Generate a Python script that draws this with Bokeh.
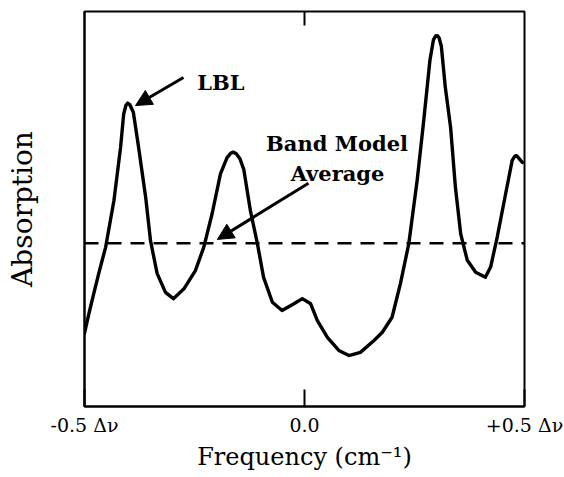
from bokeh.plotting import figure
from bokeh.models import (Range1d, FixedTicker, Span, Arrow,
                          NormalHead, Label, ColumnDataSource)
from bokeh.embed import file_html
from bokeh.resources import INLINE

# ---- data ----
freq = [-0.500, -0.490, -0.479, -0.466, -0.452, -0.433, -0.418, -0.411, -0.406,
        -0.402, -0.397, -0.389, -0.377, -0.361, -0.350, -0.335, -0.316, -0.298,
        -0.274, -0.248, -0.229, -0.210, -0.191, -0.176, -0.168, -0.162, -0.155,
        -0.147, -0.138, -0.123, -0.107, -0.093, -0.073, -0.051, -0.024, -0.005,
        0.014, 0.029, 0.052, 0.078, 0.101, 0.127, 0.158, 0.177, 0.199, 0.218,
        0.237, 0.256, 0.271, 0.285, 0.293, 0.298, 0.302, 0.306, 0.311, 0.320,
        0.332, 0.343, 0.355, 0.370, 0.389, 0.411, 0.423, 0.438, 0.457, 0.472,
        0.478, 0.482, 0.495]
lbl_absorption = [0.185, 0.235, 0.286, 0.344, 0.403, 0.522, 0.656, 0.740, 0.762,
                  0.768, 0.764, 0.745, 0.656, 0.530, 0.420, 0.337, 0.289, 0.273,
                  0.298, 0.344, 0.403, 0.488, 0.589, 0.630, 0.641, 0.644, 0.640,
                  0.628, 0.600, 0.496, 0.412, 0.327, 0.264, 0.243, 0.260, 0.273,
                  0.260, 0.218, 0.175, 0.142, 0.129, 0.137, 0.167, 0.188, 0.226,
                  0.311, 0.412, 0.572, 0.724, 0.876, 0.928, 0.938, 0.939, 0.933,
                  0.912, 0.808, 0.707, 0.555, 0.437, 0.370, 0.340, 0.327, 0.353,
                  0.429, 0.538, 0.623, 0.634, 0.635, 0.618]
band_model_average = 0.413

tick_values = [-0.5, 0.0, 0.5]
tick_labels = ["-0.5 \u0394\u03bd", "0.0", "+0.5 \u0394\u03bd"]

FONT = "DejaVu Serif"
FRAME_H = 395
Y0, Y1 = 0.0, 1.0

p = figure(width=564, height=477, output_backend="svg", toolbar_location=None,
           x_range=Range1d(-0.5, 0.5), y_range=Range1d(Y0, Y1),
           min_border_left=84, min_border_right=40, min_border_top=11,
           min_border_bottom=71, background_fill_color="white",
           border_fill_color="white")
p.grid.visible = False
p.outline_line_color = "black"
p.outline_line_width = 2

# bottom axis
xa = p.xaxis[0]
xa.ticker = FixedTicker(ticks=tick_values)
xa.major_label_overrides = {v: t for v, t in zip(tick_values, tick_labels)}
xa.major_tick_in = 17
xa.major_tick_out = 0
xa.minor_tick_line_color = None
xa.axis_line_width = 2
xa.major_tick_line_width = 2
xa.major_label_standoff = 7
xa.major_label_text_font = FONT
xa.major_label_text_font_size = "19px"
xa.major_label_text_color = "black"
xa.axis_label = "Frequency (cm\u207b\u00b9)"
xa.axis_label_text_font = FONT
xa.axis_label_text_font_size = "24px"
xa.axis_label_text_font_style = "normal"
xa.axis_label_text_color = "black"
xa.axis_label_standoff = 4

# left axis (no ticks)
ya = p.yaxis[0]
ya.ticker = FixedTicker(ticks=[])
ya.major_label_standoff = 0
ya.minor_tick_line_color = None
ya.axis_line_width = 2
ya.axis_label = "Absorption"
ya.axis_label_text_font = FONT
ya.axis_label_text_font_size = "28px"
ya.axis_label_text_font_style = "normal"
ya.axis_label_text_color = "black"
ya.axis_label_standoff = 46

# top inward tick at the centre tick value (14 px long)
top_len = 14 * (Y1 - Y0) / FRAME_H
p.segment(x0=[tick_values[1]], y0=[Y1], x1=[tick_values[1]], y1=[Y1 - top_len],
          line_color="black", line_width=2)

src = ColumnDataSource(data=dict(x=freq, y=lbl_absorption))
p.line("x", "y", source=src, line_color="black", line_width=3.4,
       line_join="round", line_cap="round")

p.add_layout(Span(location=band_model_average, dimension="width",
                  line_color="black", line_width=2.5, line_dash="14 9"))

# annotations
p.add_layout(Arrow(end=NormalHead(size=16, fill_color="black", line_color="black"),
                   x_start=-0.275, y_start=0.833, x_end=-0.384, y_end=0.762,
                   line_width=3, line_color="black"))
p.add_layout(Arrow(end=NormalHead(size=16, fill_color="black", line_color="black"),
                   x_start=0.009, y_start=0.565, x_end=-0.198, y_end=0.423,
                   line_width=3, line_color="black"))

for txt, x, y in [("LBL", -0.190, 0.820), ("Band Model", 0.074, 0.666),
                  ("Average", 0.075, 0.590)]:
    p.add_layout(Label(x=x, y=y, text=txt, text_font=FONT, text_font_size="21px",
                       text_font_style="bold", text_align="center",
                       text_baseline="alphabetic", text_color="black"))

open("out.html", "w").write(file_html(p, INLINE))
